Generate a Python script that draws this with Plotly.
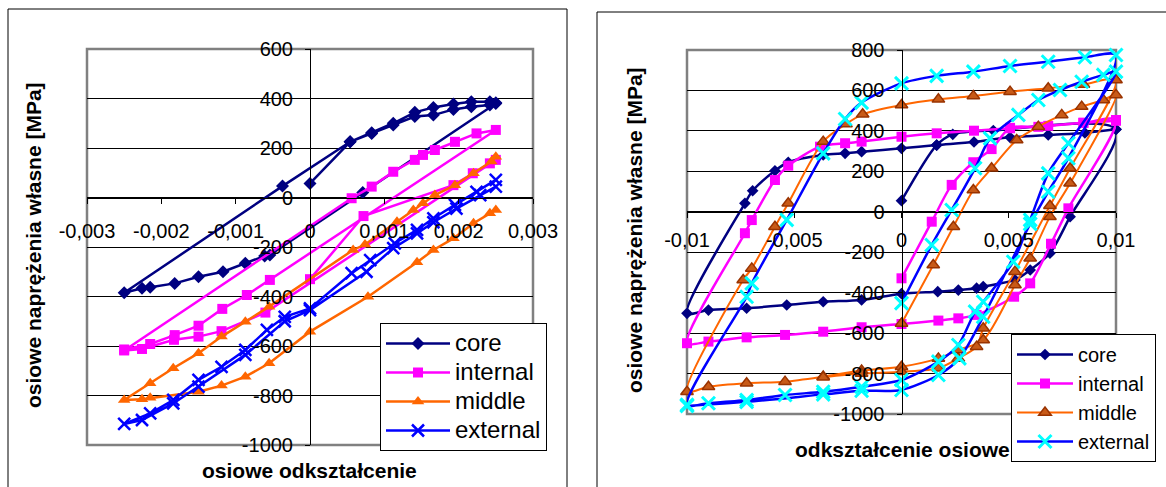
import plotly.graph_objects as go

# ---------------- data: cyclic tests, strain [-] vs residual stress [MPa] ----------------
# left panel, strain amplitude 0.0025
core_L_x = [0, 0.00054, 0.00083, 0.00112, 0.00141, 0.00166, 0.00193, 0.00217, 0.00242, 0.0025,
            0.00071, -0.00054, -0.00061, -0.00087, -0.00117, -0.0015, -0.00182, -0.00215, -0.00226, -0.0025,
            -0.00037, 0.00054, 0.00083, 0.00112, 0.00141, 0.00166, 0.00193, 0.00217, 0.00242, 0.0025]
core_L_y = [57, 225, 259, 293, 327, 333, 356, 367, 374, 380,
            20, -232, -236, -266, -300, -320, -347, -363, -367, -385,
            46, 225, 262, 300, 344, 364, 378, 387, 387, 383]

internal_L_x = [0, 0.00072, 0.00193, 0.00219, 0.00242, 0.0025,
                -0.0006, -0.00119, -0.0015, -0.00183, -0.00226, -0.0025,
                0.00056, 0.00083, 0.00112, 0.00141, 0.00152, 0.00168, 0.00195, 0.00224, 0.0025,
                -0.00054, -0.00085, -0.00118, -0.0015, -0.00182, -0.00215, -0.0025]
internal_L_y = [-330, -75, 50, 98, 138, 152,
                -465, -540, -562, -575, -612, -618,
                -3, 44, 104, 152, 172, 192, 225, 259, 273,
                -333, -394, -450, -518, -556, -592, -614]

middle_L_x = [0.0025, 0.00242, 0.0022, 0.00193, 0.00166, 0.00144, 0.00078, 0,
              -0.00055, -0.00087, -0.00119, -0.0015, -0.00215, -0.00226, -0.0025,
              -0.00215, -0.00184, -0.0015, -0.00119, -0.00087, -0.00055,
              0.00058, 0.00074, 0.00117, 0.00139, 0.00152, 0.00168, 0.00195, 0.0022, 0.00244, 0.0025]
middle_L_y = [-50, -64, -104, -165, -212, -262, -401, -542,
              -670, -724, -760, -785, -809, -815, -818,
              -751, -690, -629, -562, -502, -441,
              -212, -190, -98, -50, -23, 10, 50, 98, 145, 165]

external_L_x = [0.0025, 0.00229, 0.00197, 0.00166, 0.00144, 0.00112, 0.00076, 0,
                -0.00034, -0.00087, -0.0015, -0.00184, -0.00226, -0.0025,
                -0.00215, -0.00184, -0.0015, -0.00119, -0.00087, -0.00058, -0.00034, 0,
                0.00056, 0.00081, 0.00114, 0.00144, 0.00166, 0.00195, 0.00224, 0.0025]
external_L_y = [44, 10, -45, -100, -145, -205, -300, -455,
                -500, -636, -764, -832, -899, -915,
                -872, -818, -737, -684, -616, -535, -482, -448,
                -306, -253, -185, -131, -84, -30, 23, 71]

# right panel, strain amplitude 0.01
core_R_x = [0, 0.00164, 0.00239, 0.00428, 0.01,
            0.00786, 0.00692, 0.006, 0.00529, 0.00381, 0.0035, 0.00265, 0.00169, 0,
            -0.00186, -0.00365, -0.00535, -0.00722, -0.009, -0.01,
            -0.0073, -0.00694, -0.0059, -0.00528, -0.00365, -0.00263, -0.00186, 0,
            0.00164, 0.00338, 0.00506, 0.00684, 0.00855, 0.01]
core_R_y = [55, 330, 383, 402, 407,
            -24, -205, -288, -337, -370, -378, -387, -395, -405,
            -436, -445, -461, -477, -486, -502,
            42, 104, 203, 245, 281, 289, 297, 314,
            330, 345, 368, 380, 390, 408]

internal_R_x = [0, 0.00141, 0.00234, 0.00335, 0.0042, 0.00506, 0.00638, 0.00848, 0.01,
                0.00778, 0.00697, 0.006, 0.00525, 0.0035, 0.00265, 0.00172, 0,
                -0.00186, -0.00365, -0.00543, -0.00722, -0.009, -0.01,
                -0.0073, -0.00698, -0.0059, -0.00528, -0.0038, -0.00263, -0.00186, 0,
                0.00164, 0.00338, 0.00506, 0.00684, 0.00848, 0.01]
internal_R_y = [-329, -49, 133, 245, 310, 415, 420, 440, 454,
                17, -158, -354, -420, -510, -527, -538, -555,
                -571, -593, -609, -621, -642, -650,
                -106, -41, 157, 228, 322, 339, 347, 371,
                388, 401, 413, 425, 440, 450]

middle_R_x = [0, 0.00148, 0.00242, 0.00335, 0.0042, 0.00537, 0.00638, 0.00747, 0.0084, 0.00941, 0.01,
              0.00786, 0.00692, 0.006, 0.00529, 0.00381, 0.00265, 0.00172, 0,
              -0.00186, -0.00365, -0.00543, -0.00722, -0.009, -0.01,
              -0.00738, -0.00698, -0.0059, -0.00528, -0.00365, -0.00259, -0.00181, 0,
              0.00172, 0.00335, 0.00506, 0.00684, 0.00848, 0.01,
              0.00786, 0.00692, 0.00529, 0.00381, 0.0035, 0.00265, 0.00172, 0, -0.00186, -0.00365]
middle_R_y = [-552, -263, -74, 108, 215, 355, 421, 479, 520, 553, 578,
              141, -24, -230, -362, -634, -683, -725, -766,
              -785, -815, -840, -848, -865, -890,
              -337, -280, -74, 42, 347, 434, 482, 528,
              556, 573, 594, 611, 630, 652,
              215, 30, -296, -576, -667, -725, -774, -791, -800, -818]

external_R_x = [0, 0.00141, 0.00234, 0.00343, 0.00413, 0.00545, 0.00638, 0.00739, 0.0084, 0.00941, 0.01,
                0.00778, 0.00684, 0.006, 0.00521, 0.00381, 0.00343, 0.00265, 0.00172, 0,
                -0.00186, -0.00365, -0.00543, -0.00722, -0.009, -0.01,
                -0.00722, -0.00698, -0.00535, -0.00365, -0.00263, -0.00186, 0,
                0.00164, 0.00335, 0.00506, 0.00684, 0.00855, 0.01,
                0.00778, 0.00684, 0.006, 0.00381, 0.0027, 0.00172, 0, -0.00186, -0.00365, -0.00722, -0.01]
external_R_y = [-452, -164, 9, 215, 363, 479, 553, 602, 643, 677, 693,
                339, 190, -40, -247, -445, -494, -659, -741, -832,
                -865, -890, -906, -931, -947, -955,
                -420, -354, -40, 289, 459, 540, 635,
                672, 693, 721, 742, 764, 775,
                265, 99, -60, -519, -725, -807, -881, -885, -903, -940, -960]

# axis ticks
xticks_L = [-0.003, -0.002, -0.001, 0, 0.001, 0.002, 0.003]
xlabels_L = ["-0,003", "-0,002", "-0,001", "0", "0,001", "0,002", "0,003"]
yticks_L = [-1000, -800, -600, -400, -200, 0, 200, 400, 600]
xticks_R = [-0.01, -0.005, 0, 0.005, 0.01]
xlabels_R = ["-0,01", "-0,005", "0", "0,005", "0,01"]
yticks_R = [-1000, -800, -600, -400, -200, 0, 200, 400, 600, 800]

# ---------------- styling ----------------
W, H = 1166, 487
FONT = "Liberation Sans, Arial, sans-serif"
NAVY, MAGENTA, ORANGE, BLUE, CYAN, BROWN = "#000080", "#FF00FF", "#FF6600", "#0000FF", "#00FFFF", "#993300"

dom_xL = [87 / W, 533 / W]
dom_yL = [1 - 445 / H, 1 - 49 / H]
dom_xR = [687 / W, 1116 / W]
dom_yR = [1 - 414 / H, 1 - 50 / H]
rng_xL, rng_yL = [-0.003, 0.003], [-1000, 600]
rng_xR, rng_yR = [-0.01, 0.01], [-1000, 800]


def zero_pos(dom, rng):
    """paper position of the value 0 on an axis with the given domain and range"""
    return dom[0] + (0 - rng[0]) / (rng[1] - rng[0]) * (dom[1] - dom[0])


def big_name(name):
    # left legend uses a larger face than its row height setting
    return f'<span style="font-size:24px">{name}</span>'


fig = go.Figure()

left_series = [
    ("core", core_L_x, core_L_y, NAVY, dict(symbol="diamond", size=10, color=NAVY)),
    ("internal", internal_L_x, internal_L_y, MAGENTA, dict(symbol="square", size=10, color=MAGENTA)),
    ("middle", middle_L_x, middle_L_y, ORANGE, dict(symbol="triangle-up", size=11, color=ORANGE)),
    ("external", external_L_x, external_L_y, BLUE,
     dict(symbol="x-thin", size=12, color=BLUE, line=dict(width=2.5, color=BLUE))),
]
for name, xs, ys, col, mk in left_series:
    fig.add_trace(go.Scatter(x=xs, y=ys, name=big_name(name), mode="lines+markers",
                             line=dict(color=col, width=2.5), marker=mk,
                             xaxis="x", yaxis="y", legend="legend"))

right_series = [
    ("core", core_R_x, core_R_y, NAVY, 2.5, dict(symbol="diamond", size=9, color=NAVY)),
    ("internal", internal_R_x, internal_R_y, MAGENTA, 2.5, dict(symbol="square", size=10, color=MAGENTA)),
    ("middle", middle_R_x, middle_R_y, ORANGE, 2,
     dict(symbol="triangle-up", size=11, color="#C85A17", line=dict(width=1.5, color=BROWN))),
    ("external", external_R_x, external_R_y, BLUE, 2.5,
     dict(symbol="x-thin", size=13, color=CYAN, line=dict(width=3, color=CYAN))),
]
for name, xs, ys, col, lw, mk in right_series:
    fig.add_trace(go.Scatter(x=xs, y=ys, name=name, mode="lines+markers",
                             line=dict(color=col, width=lw, shape="spline", smoothing=0.8),
                             marker=mk, cliponaxis=False,
                             xaxis="x2", yaxis="y2", legend="legend2"))


def x_axis(dom, rng, ydom, yrng, tv, tt, standoff):
    return dict(domain=dom, range=rng, anchor="free", position=zero_pos(ydom, yrng),
                showline=True, linecolor="black", linewidth=1, ticks="outside", ticklen=5,
                tickcolor="black", tickvals=tv, ticktext=tt, showgrid=False, zeroline=False,
                ticklabelstandoff=standoff, tickfont=dict(size=20, color="black", family=FONT))


def y_axis(dom, rng, xdom, xrng, tv):
    return dict(domain=dom, range=rng, anchor="free", position=zero_pos(xdom, xrng),
                showline=True, linecolor="black", linewidth=1, ticks="outside", ticklen=5,
                tickcolor="black", tickvals=tv, ticktext=[str(v) for v in tv],
                showgrid=True, gridcolor="black", gridwidth=1, zeroline=False,
                ticklabelstandoff=8, tickfont=dict(size=20, color="black", family=FONT))


legend_style = dict(xanchor="left", yanchor="top", bgcolor="white", bordercolor="black",
                    borderwidth=1, font=dict(size=20, color="black", family=FONT),
                    tracegroupgap=0)

fig.update_layout(
    width=W, height=H, autosize=False,
    margin=dict(l=0, r=0, t=0, b=0, pad=0, autoexpand=False),
    paper_bgcolor="white", plot_bgcolor="white",
    font=dict(family=FONT, color="black"),
    xaxis=x_axis(dom_xL, rng_xL, dom_yL, rng_yL, xticks_L, xlabels_L, 10),
    yaxis=y_axis(dom_yL, rng_yL, dom_xL, rng_xL, yticks_L),
    xaxis2=x_axis(dom_xR, rng_xR, dom_yR, rng_yR, xticks_R, xlabels_R, 5),
    yaxis2=y_axis(dom_yR, rng_yR, dom_xR, rng_xR, yticks_R),
    legend=dict(x=380 / W, y=1 - 323 / H, itemwidth=64, **legend_style),
    legend2=dict(x=1011 / W, y=1 - 334 / H, itemwidth=56, **legend_style),
    showlegend=True,
)

# plot-area borders and chart frames
for xr, yr in (("x", "y"), ("x2", "y2")):
    fig.add_shape(type="rect", xref=f"{xr} domain", yref=f"{yr} domain", x0=0, x1=1, y0=0, y1=1,
                  line=dict(color="#808080", width=2.5), layer="below")
fig.add_shape(type="rect", xref="paper", yref="paper", x0=8 / W, x1=567 / W, y0=-0.2, y1=1 - 9 / H,
              line=dict(color="black", width=1), layer="above")
fig.add_shape(type="rect", xref="paper", yref="paper", x0=597 / W, x1=1.2, y0=-0.2, y1=1 - 12 / H,
              line=dict(color="black", width=1), layer="above")

# axis titles
title_font = dict(size=21, color="black", family=FONT)
for text, px, py, angle in (
    ("osiowe odkształcenie", 309, 470, 0),
    ("odkształcenie osiowe", 902, 449, 0),
    ("osiowe naprężenia własne [MPa]", 34, 245, -90),
    ("osiowe naprężenia własne [MPa]", 634, 230, -90),
):
    fig.add_annotation(text=f"<b>{text}</b>", xref="paper", yref="paper",
                       x=px / W, y=1 - py / H, xanchor="center", yanchor="middle",
                       showarrow=False, textangle=angle, font=title_font)

fig.write_html("out.html")
